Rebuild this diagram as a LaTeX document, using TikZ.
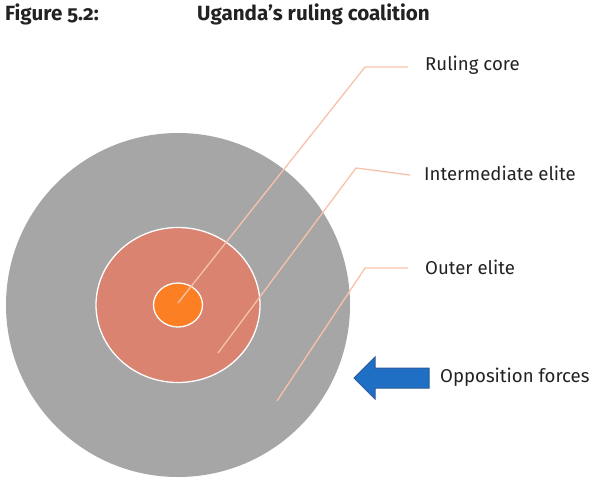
\documentclass[tikz,border=0pt]{standalone}
\usepackage{fontspec}
\setmainfont{Fira Sans}[Numbers=OldStyle]
\usepackage{tikz}
\usetikzlibrary{calc}

\definecolor{outergrey}{HTML}{A6A6A6}
\definecolor{midsalmon}{HTML}{D98370}
\definecolor{coreorange}{HTML}{FD7F24}
\definecolor{leaderpeach}{HTML}{F6C3AA}
\definecolor{arrowblue}{HTML}{1F6FC5}
\definecolor{arrowedge}{HTML}{2A5A9A}
\definecolor{textgrey}{HTML}{222222}

\begin{document}
\begin{tikzpicture}[x=1pt, y=-1pt,
    every node/.style={text=textgrey},
    label/.style={anchor=west, inner sep=0pt, font=\fontsize{18.6}{20}\selectfont},
    leader/.style={draw=leaderpeach, line width=1.3pt},
    ring/.style={draw=white, line width=1.3pt}]

    \useasboundingbox (0,0) rectangle (594,480);

    % title
    \node[anchor=west, inner sep=0pt, font=\fontsize{20.6}{22}\bfseries] (fig) at (5,14) {Figure 5.2:};
    \node[anchor=west, inner sep=0pt, font=\fontsize{20.6}{22}\bfseries] (title) at (197,14) {Uganda’s ruling coalition};

    % circles
    \fill[outergrey] (178,305) circle (172);
    \filldraw[fill=midsalmon, ring] (178,305) ellipse (82 and 77.5);
    \filldraw[fill=coreorange, ring] (178,305) ellipse (24.5 and 22);

    % labels
    \node[label] (core) at (425,65) {Ruling core};
    \node[label] (inter) at (424,173) {Intermediate elite};
    \node[label] (outer) at (425,267) {Outer elite};
    \node[label] (opp) at (440,377) {Opposition forces};

    \coordinate (pcore) at (178,303);
    \coordinate (pinter) at (218,353);
    \coordinate (pouter) at (277,401);
    \coordinate (kcore) at (365,67);
    \coordinate (kinter) at (356,168);
    \coordinate (kouter) at (365,268);
    \coordinate (ecore) at (408,67);
    \coordinate (einter) at (410,175);
    \coordinate (eouter) at (408,268);

    \draw[leader] (pcore) -- (kcore) -- (ecore);
    \draw[leader] (pinter) -- (kinter) -- (einter);
    \draw[leader] (pouter) -- (kouter) -- (eouter);

    % arrow
    \filldraw[fill=arrowblue, draw=arrowedge, line width=1pt, line join=miter]
        (354,378) -- (375,357) -- (375,368) -- (429,368) -- (429,388)
        -- (375,388) -- (375,399) -- cycle;

\end{tikzpicture}
\end{document}
